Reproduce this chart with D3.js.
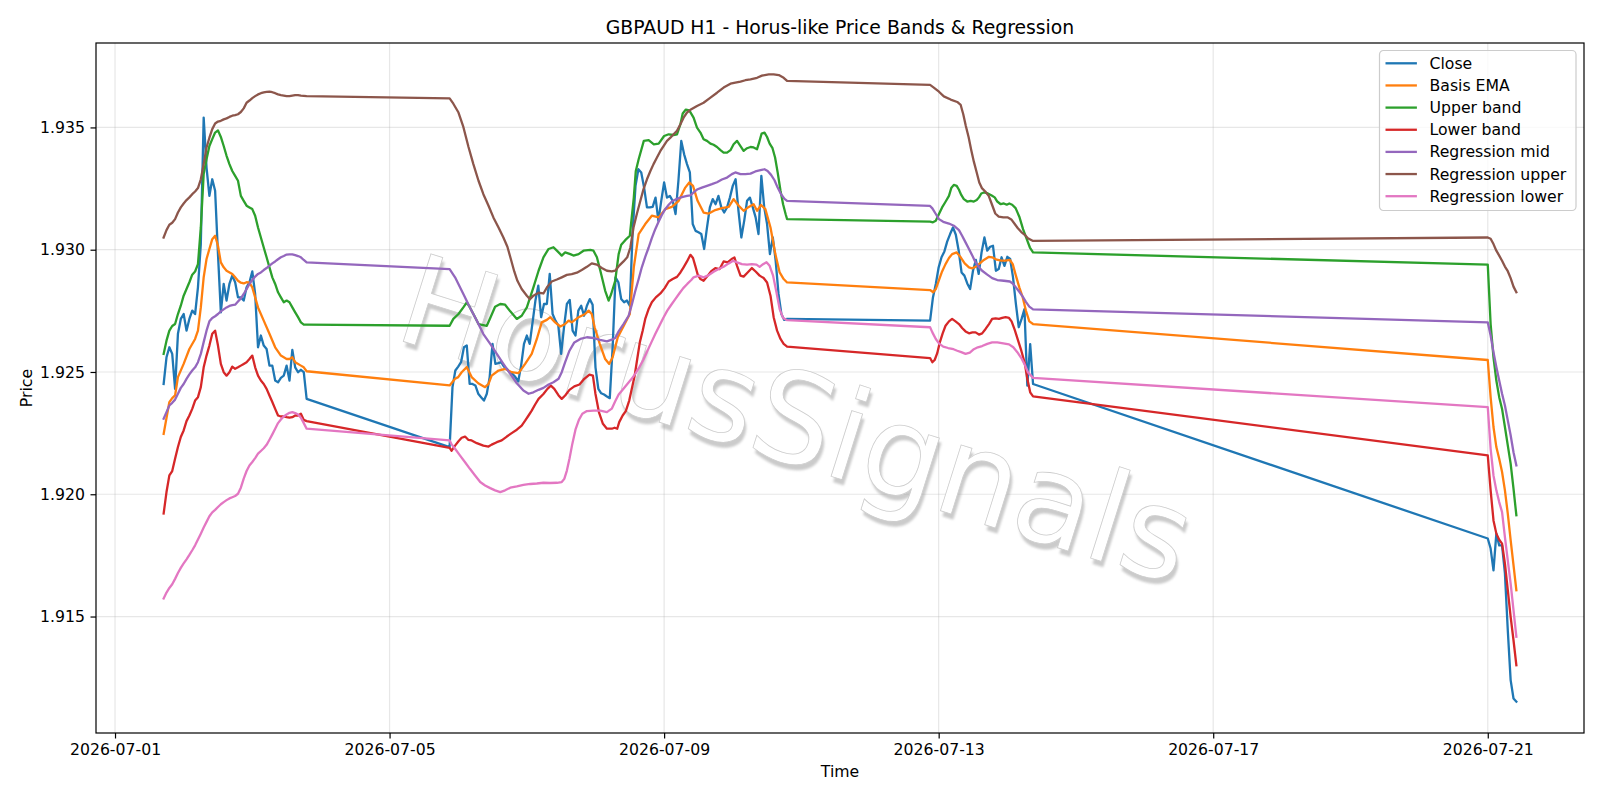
<!DOCTYPE html>
<html>
<head>
<meta charset="utf-8">
<title>GBPAUD H1 - Horus-like Price Bands & Regression</title>
<script src="https://cdn.jsdelivr.net/npm/d3@7/dist/d3.min.js"></script>
<style>
  body { margin: 0; background: #fff; }
  svg { font-family: 'DejaVu Sans', sans-serif; }
</style>
</head>
<body>
<div id="chart"></div>
<script>
// all times are hours since 2026-07-01 00:00 UTC (H1 bars)
const closeSegments = [
  { start: 17, values: [
    1.92451, 1.92560, 1.92601, 1.92574, 1.92431, 1.92656, 1.92717, 1.92737, 1.92669, 1.92717,
    1.92751, 1.92737, 1.92846, 1.93023, 1.93540, 1.93336, 1.93220, 1.93288, 1.93241, 1.92982,
    1.92744, 1.92860, 1.92792, 1.92860, 1.92894, 1.92867, 1.92805, 1.92805, 1.92792, 1.92846,
    1.92867, 1.92911, 1.92819, 1.92601, 1.92649, 1.92608, 1.92594, 1.92526, 1.92526, 1.92465,
    1.92458, 1.92476, 1.92485, 1.92526, 1.92465, 1.92590, 1.92519, 1.92499, 1.92509, 1.92499,
    1.92390] },
  { start: 117, values: [
    1.92193, 1.92438, 1.92506, 1.92522, 1.92540, 1.92601, 1.92608, 1.92451, 1.92451, 1.92445,
    1.92411, 1.92397, 1.92383, 1.92411, 1.92479, 1.92615, 1.92533, 1.92536, 1.92540, 1.92522,
    1.92513, 1.92499, 1.92492, 1.92479, 1.92462, 1.92526, 1.92615, 1.92649, 1.92615, 1.92703,
    1.92792, 1.92853, 1.92724, 1.92778, 1.92778, 1.92901, 1.92737, 1.92710, 1.92690, 1.92574,
    1.92683, 1.92778, 1.92795, 1.92669, 1.92649, 1.92751, 1.92771, 1.92730, 1.92771, 1.92798,
    1.92775, 1.92519, 1.92431, 1.92413, 1.92408, 1.92400, 1.92393, 1.92601, 1.92887, 1.92867,
    1.92798, 1.92785, 1.92792, 1.92771, 1.93077, 1.93261, 1.93329, 1.93316, 1.93254, 1.93173,
    1.93173, 1.93175, 1.93213, 1.93118, 1.93200, 1.93275, 1.93213, 1.93220, 1.93200, 1.93146,
    1.93282, 1.93445, 1.93390, 1.93350, 1.93316, 1.93105, 1.93077, 1.93071, 1.93064, 1.93003,
    1.93091, 1.93173, 1.93207, 1.93186, 1.93220, 1.93173, 1.93152, 1.93173, 1.93213, 1.93261,
    1.93288, 1.93159, 1.93050, 1.93118, 1.93200, 1.93213, 1.93173, 1.93132, 1.93064, 1.93302,
    1.93173, 1.93105, 1.92982, 1.93050, 1.92955, 1.92819, 1.92737, 1.92713, 1.92717] },
  { start: 285, values: [
    1.92710, 1.92805, 1.92860, 1.92928, 1.92969, 1.92993, 1.93034, 1.93064, 1.93091, 1.93061,
    1.92996, 1.92907, 1.92894, 1.92862, 1.92839, 1.92914, 1.92958, 1.92901, 1.92989, 1.93050,
    1.92996, 1.93012, 1.93016, 1.92914, 1.92921, 1.92969, 1.92934, 1.92971, 1.92962, 1.92887,
    1.92778, 1.92683, 1.92717, 1.92757, 1.92444, 1.92614, 1.92451] },
  { start: 480, values: [
    1.91819, 1.91778, 1.91689, 1.91839, 1.91791, 1.91791, 1.91676, 1.91444, 1.91240, 1.91165,
    1.91152] }
];

// [hour, price] vertices of the smoother series
const basisEma = [
  [17, 1.92247], [19, 1.92377], [20, 1.92393], [21, 1.92404], [22, 1.92479], [24, 1.92533],
  [26, 1.92594], [28, 1.92635], [29, 1.92669], [30, 1.92764], [31, 1.92887], [32, 1.92962],
  [33, 1.93003], [34, 1.93043], [35, 1.93057], [36, 1.93016], [37, 1.92948], [38, 1.92928],
  [39, 1.92914], [41, 1.92901], [42, 1.92887], [43, 1.92873], [44, 1.92865], [45, 1.92862],
  [46, 1.92867], [47, 1.92865], [48, 1.92846], [49, 1.92805], [50, 1.92764], [52, 1.92710],
  [54, 1.92656], [56, 1.92601], [58, 1.92567], [60, 1.92553], [61, 1.92553], [62, 1.92560],
  [63, 1.92540], [65, 1.92526], [66, 1.92519], [67, 1.92503],
  [117, 1.92445], [118.9, 1.92472], [120, 1.92479], [121.2, 1.92499], [123, 1.92520], [124.7, 1.92479],
  [127, 1.92454], [129.4, 1.92438], [130.6, 1.92451], [131.7, 1.92485], [134.1, 1.92506], [136.4, 1.92513],
  [138.7, 1.92499], [141.1, 1.92495], [143.4, 1.92533], [145.7, 1.92574], [147.5, 1.92635], [149.2, 1.92703],
  [151, 1.92713], [152.2, 1.92724], [153.9, 1.92703], [155.7, 1.92686], [157.4, 1.92696], [158.6, 1.92710],
  [159.7, 1.92703], [162.1, 1.92724], [164.4, 1.92737], [165.6, 1.92751], [166.7, 1.92737], [167.7, 1.92683],
  [169.5, 1.92615], [171.4, 1.92553], [172.8, 1.92533], [174, 1.92560], [175.8, 1.92642], [177.9, 1.92689],
  [180, 1.92737], [181.4, 1.92928], [183.1, 1.93064], [185.4, 1.93105], [187.7, 1.93139], [190.1, 1.93132],
  [192.4, 1.93166], [194.7, 1.93175], [197.1, 1.93200], [199.4, 1.93254], [200.8, 1.93275], [202.1, 1.93261],
  [203.7, 1.93200], [205.8, 1.93152], [207.6, 1.93148], [209.9, 1.93162], [212.2, 1.93170], [214.6, 1.93175],
  [216.3, 1.93207], [218.1, 1.93180], [219.8, 1.93159], [221.6, 1.93175], [223.3, 1.93186], [224.5, 1.93159],
  [225.9, 1.93183], [227.4, 1.93166], [229.2, 1.93091], [230.9, 1.92982], [232.4, 1.92907], [233.8, 1.92880],
  [235, 1.92866],
  [285, 1.92835], [286.1, 1.92826], [287, 1.92839], [288.1, 1.92876], [289.2, 1.92911], [290.4, 1.92941],
  [291.6, 1.92966], [292.7, 1.92982], [294.3, 1.92989], [295.7, 1.92969], [297.1, 1.92944], [298.6, 1.92928],
  [299.7, 1.92924], [300.9, 1.92930], [302.4, 1.92944], [303.8, 1.92958], [305.6, 1.92971], [306.7, 1.92969],
  [308.3, 1.92959], [309.9, 1.92955], [311.4, 1.92955], [312.9, 1.92958], [313.9, 1.92941], [315, 1.92894],
  [316.2, 1.92846], [317.4, 1.92805], [318.5, 1.92751], [319.7, 1.92707], [321, 1.92696],
  [480, 1.92549], [481, 1.92397], [482, 1.92275], [483, 1.92193], [484, 1.92145], [485, 1.92091],
  [486, 1.92016], [487, 1.91921], [488, 1.91812], [489, 1.91710], [490, 1.91608]
];

const upperBand = [
  [17, 1.92574], [18, 1.92628], [19, 1.92669], [20, 1.92688], [21, 1.92696], [22, 1.92737],
  [23, 1.92771], [24, 1.92812], [25, 1.92839], [26, 1.92867], [27, 1.92898], [28, 1.92911],
  [29, 1.92941], [30, 1.93091], [31, 1.93309], [32, 1.93370], [33, 1.93424], [34, 1.93452],
  [35, 1.93479], [36, 1.93488], [37, 1.93461], [38, 1.93424], [39, 1.93384], [40, 1.93350],
  [41, 1.93322], [42, 1.93302], [43, 1.93282], [44, 1.93220], [45, 1.93200], [46, 1.93180],
  [47, 1.93173], [48, 1.93166], [49, 1.93139], [50, 1.93091], [51, 1.93050], [52, 1.93009],
  [53, 1.92969], [54, 1.92928], [55, 1.92887], [56, 1.92860], [57, 1.92826], [58, 1.92805],
  [59, 1.92785], [60, 1.92792], [61, 1.92785], [62, 1.92764], [63, 1.92744], [64, 1.92724],
  [65, 1.92703], [66, 1.92694], [67, 1.92694],
  [117, 1.92689], [118.3, 1.92717], [120.1, 1.92737], [121.8, 1.92764], [123, 1.92785], [124.1, 1.92764],
  [125.3, 1.92737], [127.1, 1.92696], [130, 1.92689], [131.2, 1.92721], [132.9, 1.92767], [134.7, 1.92778],
  [136.4, 1.92775], [138.2, 1.92748], [140.5, 1.92717], [142.2, 1.92730], [144, 1.92764], [146.3, 1.92846],
  [148.1, 1.92914], [149.8, 1.92969], [151.6, 1.93003], [153.3, 1.93010], [154.5, 1.92996], [156.2, 1.92976],
  [157.4, 1.92989], [159.2, 1.92982], [160.3, 1.92976], [162.1, 1.92982], [163.8, 1.92996], [166.2, 1.92999],
  [167.3, 1.92996], [168.5, 1.92969], [169.7, 1.92914], [171.4, 1.92832], [172.6, 1.92792], [173.5, 1.92819],
  [174.9, 1.92873], [176.1, 1.92982], [177, 1.93020], [178.4, 1.93039], [180, 1.93057], [181.4, 1.93213],
  [182.1, 1.93322], [183.1, 1.93370], [184.9, 1.93445], [186.6, 1.93448], [188.4, 1.93431], [190.1, 1.93434],
  [192, 1.93465], [193.6, 1.93472], [195.3, 1.93469], [196.5, 1.93472], [197.7, 1.93513], [198.5, 1.93557],
  [199.6, 1.93573], [200.8, 1.93570], [202.3, 1.93540], [203.5, 1.93499], [204.7, 1.93479], [205.8, 1.93452],
  [207, 1.93445], [208.2, 1.93434], [209.3, 1.93429], [210.5, 1.93420], [211.7, 1.93407], [212.8, 1.93397],
  [214, 1.93397], [215.2, 1.93407], [216.3, 1.93431], [217.5, 1.93445], [218.7, 1.93424], [219.8, 1.93404],
  [221, 1.93415], [222.2, 1.93420], [223.3, 1.93418], [224.5, 1.93411], [225.2, 1.93438], [226.1, 1.93475],
  [227.1, 1.93479], [228, 1.93461], [228.9, 1.93434], [229.9, 1.93415], [230.8, 1.93377], [231.7, 1.93316],
  [232.7, 1.93241], [233.6, 1.93186], [234.5, 1.93145], [235, 1.93125],
  [285, 1.93115], [286, 1.93112], [287, 1.93118], [288.1, 1.93146], [289.2, 1.93173], [290.4, 1.93196],
  [291.6, 1.93220], [292.4, 1.93252], [293.3, 1.93265], [294.3, 1.93261], [295.1, 1.93245], [295.9, 1.93224],
  [296.8, 1.93207], [298, 1.93197], [299.2, 1.93200], [300.3, 1.93197], [301.3, 1.93203], [302.1, 1.93214],
  [302.9, 1.93230], [303.8, 1.93234], [305.2, 1.93230], [306.4, 1.93223], [307.6, 1.93214], [308.5, 1.93197],
  [309.7, 1.93186], [310.8, 1.93189], [311.8, 1.93184], [312.7, 1.93189], [313.7, 1.93184], [314.9, 1.93170],
  [316.2, 1.93135], [317.5, 1.93084], [318.8, 1.93043], [319.9, 1.93009], [321, 1.92989],
  [480, 1.92939], [481, 1.92696], [482, 1.92560], [483, 1.92465], [484, 1.92397], [485, 1.92349],
  [486, 1.92275], [487, 1.92200], [488, 1.92125], [489, 1.92023], [490, 1.91914]
];

const lowerBand = [
  [17, 1.91921], [18, 1.92009], [19, 1.92077], [20, 1.92095], [21, 1.92145], [22, 1.92193],
  [23, 1.92234], [24, 1.92261], [25, 1.92299], [26, 1.92322], [27, 1.92349], [28, 1.92383],
  [29, 1.92397], [30, 1.92438], [31, 1.92519], [32, 1.92567], [33, 1.92608], [34, 1.92656],
  [35, 1.92669], [36, 1.92608], [37, 1.92533], [38, 1.92499], [39, 1.92485], [40, 1.92499],
  [41, 1.92522], [42, 1.92513], [43, 1.92519], [44, 1.92526], [45, 1.92533], [46, 1.92540],
  [47, 1.92553], [48, 1.92567], [49, 1.92519], [50, 1.92485], [51, 1.92465], [52, 1.92451],
  [53, 1.92431], [54, 1.92404], [55, 1.92377], [56, 1.92349], [57, 1.92322], [58, 1.92318],
  [59, 1.92318], [60, 1.92315], [61, 1.92313], [62, 1.92315], [63, 1.92322], [64, 1.92322],
  [65, 1.92329], [66, 1.92304], [67, 1.92299],
  [117, 1.92190], [117.7, 1.92178], [118.9, 1.92199], [120.1, 1.92217], [121.2, 1.92231], [122.4, 1.92236],
  [123.6, 1.92222], [124.7, 1.92220], [126.5, 1.92209], [128.8, 1.92199], [130.6, 1.92195], [131.7, 1.92203],
  [133.5, 1.92213], [135.2, 1.92220], [137, 1.92236], [138.7, 1.92250], [140.5, 1.92264], [142.2, 1.92281],
  [143.4, 1.92301], [144.6, 1.92322], [145.7, 1.92342], [146.9, 1.92367], [148.1, 1.92390], [149.8, 1.92410],
  [151.2, 1.92431], [152.4, 1.92444], [153.6, 1.92431], [155.1, 1.92404], [156.2, 1.92390], [157.4, 1.92404],
  [158.9, 1.92427], [160.6, 1.92441], [162.4, 1.92449], [164.1, 1.92472], [165.9, 1.92489], [167.1, 1.92485],
  [168, 1.92410], [169.2, 1.92336], [170.6, 1.92288], [172, 1.92268], [173.7, 1.92268], [174.7, 1.92272],
  [175.6, 1.92268], [176.3, 1.92295], [177.5, 1.92322], [178.6, 1.92340], [179.8, 1.92383], [180.7, 1.92431],
  [181.7, 1.92485], [182.6, 1.92553], [183.5, 1.92621], [184.5, 1.92669], [185.4, 1.92717], [186.6, 1.92758],
  [187.7, 1.92785], [189.1, 1.92805], [190.7, 1.92821], [192.2, 1.92843], [193.6, 1.92870], [195, 1.92880],
  [196.5, 1.92889], [197.7, 1.92907], [198.8, 1.92928], [200, 1.92952], [201.2, 1.92979], [202.1, 1.92966],
  [202.9, 1.92934], [203.7, 1.92900], [204.7, 1.92880], [205.8, 1.92873], [207, 1.92890], [208.4, 1.92911],
  [209.9, 1.92925], [211.4, 1.92921], [212.8, 1.92952], [214.2, 1.92948], [215.6, 1.92962], [216.6, 1.92968],
  [217.5, 1.92934], [218.7, 1.92894], [219.8, 1.92890], [221.2, 1.92907], [222.7, 1.92925], [224, 1.92911],
  [225.4, 1.92894], [226.8, 1.92884], [228, 1.92866], [229.2, 1.92812], [230.3, 1.92724], [231.5, 1.92669],
  [232.7, 1.92635], [233.8, 1.92615], [235, 1.92604],
  [285, 1.92557], [285.8, 1.92540], [286.6, 1.92549], [287.5, 1.92577], [288.4, 1.92621], [289.4, 1.92658],
  [290.4, 1.92689], [291.6, 1.92707], [292.7, 1.92717], [293.9, 1.92707], [295.1, 1.92696], [296.2, 1.92680],
  [297.4, 1.92666], [298.6, 1.92658], [299.8, 1.92662], [300.9, 1.92662], [302.1, 1.92653], [303.2, 1.92658],
  [304.4, 1.92676], [305.6, 1.92696], [306.7, 1.92717], [307.9, 1.92719], [309.1, 1.92717], [310.2, 1.92721],
  [311.4, 1.92724], [312.6, 1.92721], [313.5, 1.92707], [314.6, 1.92672], [315.7, 1.92631], [316.9, 1.92587],
  [318.1, 1.92536], [319, 1.92472], [320, 1.92417], [321, 1.92400],
  [480, 1.92159], [481, 1.92016], [482, 1.91893], [483, 1.91839], [484, 1.91814], [485, 1.91798],
  [486, 1.91716], [487, 1.91608], [488, 1.91499], [489, 1.91403], [490, 1.91301]
];

const regressionMid = [
  [17, 1.92309], [18, 1.92336], [19, 1.92363], [20, 1.92374], [21, 1.92387], [22, 1.92411],
  [23, 1.92435], [24, 1.92451], [25, 1.92472], [26, 1.92490], [27, 1.92506], [28, 1.92519],
  [29, 1.92540], [30, 1.92574], [31, 1.92622], [32, 1.92669], [33, 1.92707], [34, 1.92721],
  [35, 1.92728], [36, 1.92737], [37, 1.92748], [38, 1.92756], [39, 1.92764], [40, 1.92770],
  [41, 1.92773], [42, 1.92775], [43, 1.92788], [44, 1.92801], [45, 1.92819], [46, 1.92839],
  [47, 1.92860], [48, 1.92876], [49, 1.92890], [50, 1.92901], [51, 1.92907], [52, 1.92917],
  [53, 1.92925], [54, 1.92935], [55, 1.92944], [56, 1.92952], [57, 1.92961], [58, 1.92969],
  [59, 1.92974], [60, 1.92980], [61, 1.92981], [62, 1.92981], [63, 1.92978], [64, 1.92974],
  [65, 1.92969], [66, 1.92958], [67, 1.92948],
  [117, 1.92921], [118.9, 1.92887], [121.8, 1.92819], [124.1, 1.92764], [126.5, 1.92710], [128.8, 1.92655],
  [131.2, 1.92615], [133.5, 1.92574], [135.8, 1.92533], [138.2, 1.92492], [140.5, 1.92454], [142.8, 1.92424],
  [144.6, 1.92411], [146.3, 1.92417], [148.1, 1.92427], [149.8, 1.92435], [151.6, 1.92449], [153.3, 1.92458],
  [155.1, 1.92472], [156.2, 1.92499], [157.4, 1.92540], [158.9, 1.92587], [160.6, 1.92621], [162.7, 1.92635],
  [165, 1.92642], [167.3, 1.92639], [169.6, 1.92631], [172, 1.92625], [173.7, 1.92632], [174.9, 1.92639],
  [176.1, 1.92666], [177.8, 1.92696], [179.6, 1.92730], [180.7, 1.92775], [181.9, 1.92830], [183.1, 1.92880],
  [184.2, 1.92928], [185.4, 1.92971], [186.6, 1.93009], [187.7, 1.93047], [188.9, 1.93084], [190.1, 1.93115],
  [191.2, 1.93142], [192.4, 1.93166], [193.6, 1.93184], [194.7, 1.93197], [196.5, 1.93208], [198.2, 1.93215],
  [200, 1.93220], [201.2, 1.93222], [202.3, 1.93234], [203.5, 1.93246], [205.2, 1.93254], [207, 1.93261],
  [208.7, 1.93268], [210.5, 1.93276], [212.2, 1.93287], [214, 1.93295], [215.7, 1.93309], [216.9, 1.93316],
  [218.7, 1.93309], [220.4, 1.93309], [222.2, 1.93311], [223.9, 1.93320], [225.7, 1.93325], [227.1, 1.93329],
  [228.2, 1.93322], [229.4, 1.93306], [230.6, 1.93284], [231.7, 1.93254], [232.9, 1.93227], [234.1, 1.93208],
  [235, 1.93200],
  [285, 1.93179], [285.8, 1.93169], [287, 1.93146], [288.1, 1.93125], [289.6, 1.93114], [291.6, 1.93107],
  [293.3, 1.93098], [295.1, 1.93080], [296.2, 1.93057], [297.4, 1.93030], [298.6, 1.93003], [299.8, 1.92975],
  [300.9, 1.92948], [302.1, 1.92928], [303.2, 1.92914], [305, 1.92898], [306.7, 1.92884], [308.5, 1.92876],
  [310.8, 1.92873], [312.9, 1.92870], [313.9, 1.92862], [315, 1.92846], [316.2, 1.92828], [317.4, 1.92808],
  [318.5, 1.92787], [319.7, 1.92767], [321, 1.92756],
  [480, 1.92703], [481, 1.92649], [482, 1.92581], [483, 1.92520], [484, 1.92465], [485, 1.92411],
  [486, 1.92363], [487, 1.92302], [488, 1.92241], [489, 1.92172], [490, 1.92118]
];

const regressionUpper = [
  [17, 1.93050], [18, 1.93080], [19, 1.93102], [20, 1.93110], [21, 1.93125], [22, 1.93152],
  [23, 1.93173], [24, 1.93189], [25, 1.93203], [26, 1.93214], [27, 1.93227], [28, 1.93238],
  [29, 1.93252], [30, 1.93288], [31, 1.93350], [32, 1.93418], [33, 1.93458], [34, 1.93493],
  [35, 1.93516], [36, 1.93524], [37, 1.93527], [38, 1.93533], [39, 1.93537], [40, 1.93543],
  [41, 1.93548], [42, 1.93550], [43, 1.93554], [44, 1.93563], [45, 1.93578], [46, 1.93601],
  [47, 1.93610], [48, 1.93620], [49, 1.93628], [50, 1.93635], [51, 1.93640], [52, 1.93643],
  [53, 1.93645], [54, 1.93646], [55, 1.93644], [56, 1.93640], [57, 1.93635], [58, 1.93632],
  [59, 1.93630], [60, 1.93628], [61, 1.93628], [62, 1.93630], [63, 1.93632], [64, 1.93632],
  [65, 1.93630], [66, 1.93629], [67, 1.93628],
  [117, 1.93619], [118.3, 1.93597], [120.1, 1.93561], [121.8, 1.93502], [123.6, 1.93420], [125.3, 1.93350],
  [127.1, 1.93282], [128.8, 1.93227], [130.6, 1.93180], [132.3, 1.93132], [134.1, 1.93091], [135.8, 1.93050],
  [137.2, 1.93012], [138.4, 1.92962], [139.6, 1.92911], [140.7, 1.92873], [142.2, 1.92839], [144, 1.92812],
  [145.1, 1.92798], [146.3, 1.92812], [148.1, 1.92824], [149.8, 1.92821], [151.2, 1.92849], [152.7, 1.92870],
  [154.5, 1.92878], [156.2, 1.92887], [158, 1.92897], [159.7, 1.92900], [161.5, 1.92906], [163.2, 1.92917],
  [165, 1.92930], [166.7, 1.92944], [168.5, 1.92939], [170.2, 1.92925], [172, 1.92914], [173.7, 1.92911],
  [174.9, 1.92914], [176.3, 1.92935], [177.8, 1.92952], [179.1, 1.92969], [180.2, 1.93009], [181.3, 1.93091],
  [182.5, 1.93148], [183.7, 1.93200], [184.8, 1.93248], [186, 1.93288], [187.2, 1.93322], [188.3, 1.93350],
  [189.5, 1.93377], [190.7, 1.93404], [191.8, 1.93424], [193, 1.93445], [194.2, 1.93458], [195.3, 1.93472],
  [196.5, 1.93486], [197.7, 1.93513], [198.8, 1.93540], [200, 1.93561], [201.2, 1.93572], [203.5, 1.93588],
  [205.8, 1.93601], [208.2, 1.93622], [210.5, 1.93642], [212.8, 1.93663], [215.2, 1.93679], [216.9, 1.93683],
  [218.7, 1.93687], [220.4, 1.93693], [222.2, 1.93697], [224.5, 1.93703], [226.2, 1.93712], [228.6, 1.93717],
  [230.3, 1.93717], [232.1, 1.93714], [233.8, 1.93703], [235, 1.93690],
  [285, 1.93674], [286.3, 1.93663], [288.1, 1.93646], [289.8, 1.93627], [292.2, 1.93614], [294.5, 1.93604],
  [295.7, 1.93592], [296.6, 1.93554], [297.5, 1.93506], [298.5, 1.93459], [299.4, 1.93407], [300.3, 1.93360],
  [301.3, 1.93316], [302.2, 1.93275], [303.1, 1.93252], [304.3, 1.93238], [305.5, 1.93220], [306.6, 1.93186],
  [307.8, 1.93148], [309, 1.93135], [310.6, 1.93132], [312.2, 1.93132], [313.4, 1.93124], [314.6, 1.93105],
  [315.7, 1.93088], [316.9, 1.93072], [318.1, 1.93061], [319.2, 1.93047], [321, 1.93036],
  [480, 1.93050], [481, 1.93045], [482, 1.93023], [483, 1.92996], [484, 1.92976], [485, 1.92955],
  [486, 1.92931], [487, 1.92912], [488, 1.92884], [489, 1.92849], [490, 1.92826]
];

const regressionLower = [
  [17, 1.91574], [18, 1.91598], [19, 1.91617], [20, 1.91632], [21, 1.91654], [22, 1.91678],
  [23, 1.91699], [24, 1.91717], [25, 1.91734], [26, 1.91752], [27, 1.91771], [28, 1.91791],
  [29, 1.91815], [30, 1.91839], [31, 1.91864], [32, 1.91887], [33, 1.91910], [34, 1.91926],
  [35, 1.91936], [36, 1.91948], [37, 1.91959], [38, 1.91968], [39, 1.91976], [40, 1.91983],
  [41, 1.91988], [42, 1.91993], [43, 1.92002], [44, 1.92027], [45, 1.92064], [46, 1.92095],
  [47, 1.92118], [48, 1.92132], [49, 1.92148], [50, 1.92166], [51, 1.92177], [52, 1.92188],
  [53, 1.92202], [54, 1.92223], [55, 1.92245], [56, 1.92268], [57, 1.92291], [58, 1.92306],
  [59, 1.92318], [60, 1.92326], [61, 1.92333], [62, 1.92336], [63, 1.92332], [64, 1.92326],
  [65, 1.92313], [66, 1.92291], [67, 1.92268],
  [117, 1.92220], [117.7, 1.92204], [118.9, 1.92186], [120.6, 1.92159], [122.4, 1.92131], [124.1, 1.92104],
  [125.9, 1.92077], [127.7, 1.92050], [129.4, 1.92036], [131.2, 1.92025], [132.9, 1.92016], [134.7, 1.92009],
  [136.4, 1.92016], [138.2, 1.92027], [140.5, 1.92032], [142.8, 1.92038], [145.2, 1.92042], [147.5, 1.92044],
  [149.8, 1.92047], [152.1, 1.92046], [154.5, 1.92047], [156.2, 1.92050], [157.1, 1.92063], [158, 1.92097],
  [158.9, 1.92145], [159.9, 1.92206], [161, 1.92264], [162.2, 1.92304], [163.4, 1.92329], [165, 1.92340],
  [167.3, 1.92342], [169.7, 1.92342], [172, 1.92336], [173.7, 1.92350], [174.9, 1.92380], [176.1, 1.92408],
  [177.5, 1.92427], [179, 1.92449], [180.5, 1.92470], [181.9, 1.92492], [183.3, 1.92519], [184.7, 1.92549],
  [186.1, 1.92585], [187.5, 1.92620], [188.9, 1.92655], [190.3, 1.92688], [191.7, 1.92721], [193.1, 1.92751],
  [194.5, 1.92775], [195.9, 1.92798], [197.3, 1.92821], [198.7, 1.92843], [200.1, 1.92860], [201.5, 1.92876],
  [202.3, 1.92887], [204.1, 1.92894], [205.8, 1.92887], [207.6, 1.92896], [209.3, 1.92910], [211.1, 1.92921],
  [212.8, 1.92930], [214.6, 1.92944], [216.1, 1.92955], [217.5, 1.92948], [219.2, 1.92941], [221, 1.92939],
  [222.7, 1.92941], [224.3, 1.92939], [225.4, 1.92930], [226.6, 1.92941], [227.8, 1.92949], [228.9, 1.92934],
  [230.1, 1.92894], [231.3, 1.92825], [232.4, 1.92757], [233.6, 1.92721], [235, 1.92712],
  [285, 1.92683], [285.8, 1.92662], [287, 1.92635], [288.1, 1.92617], [289.6, 1.92604], [291.3, 1.92598],
  [293.2, 1.92593], [294.5, 1.92587], [295.9, 1.92581], [297.4, 1.92574], [298.9, 1.92579], [300.3, 1.92593],
  [301.7, 1.92601], [303.2, 1.92606], [305, 1.92615], [306.7, 1.92621], [308.5, 1.92621], [310.6, 1.92617],
  [312.6, 1.92613], [314.1, 1.92601], [315.5, 1.92581], [316.9, 1.92557], [318.1, 1.92530], [319.2, 1.92499],
  [321, 1.92476],
  [480, 1.92356], [481, 1.92186], [482, 1.92077], [483, 1.92016], [484, 1.91968], [485, 1.91927],
  [486, 1.91825], [487, 1.91730], [488, 1.91635], [489, 1.91526], [490, 1.91417]
];

const seriesLabels = ['Close', 'Basis EMA', 'Upper band', 'Lower band',
  'Regression mid', 'Regression upper', 'Regression lower'];
const xTickLabels = ['2026-07-01', '2026-07-05', '2026-07-09', '2026-07-13', '2026-07-17', '2026-07-21'];
const yTickValues = [1.915, 1.920, 1.925, 1.930, 1.935];

((global) => {
  const W = 1600;
  const H = 800;
  const plot = { left: 96, right: 1584, top: 43, bottom: 733 };
  const colors = ['#1f77b4', '#ff7f0e', '#2ca02c', '#d62728', '#9467bd', '#8c564b', '#e377c2'];
  const t0 = Date.UTC(2026, 6, 1);
  const hourToDate = h => new Date(t0 + h * 3600e3);

  const close = closeSegments.flatMap(s => s.values.map((v, i) => [s.start + i, v]));
  const series = [close, basisEma, upperBand, lowerBand, regressionMid, regressionUpper, regressionLower];

  // matplotlib-style 5% margins around the data
  const all = series.flat();
  const [h0, h1] = d3.extent(all, d => d[0]);
  const [v0, v1] = d3.extent(all, d => d[1]);
  const hp = (h1 - h0) * 0.05;
  const vp = (v1 - v0) * 0.05;

  const x = d3.scaleUtc()
    .domain([hourToDate(h0 - hp), hourToDate(h1 + hp)])
    .range([plot.left, plot.right]);
  const y = d3.scaleLinear()
    .domain([v0 - vp, v1 + vp])
    .range([plot.bottom, plot.top]);

  const svg = d3.select('#chart')
    .append('svg')
    .attr('width', W)
    .attr('height', H);

  svg.append('rect').attr('width', W).attr('height', H).attr('fill', '#fff');

  const defs = svg.append('defs');
  defs.append('clipPath')
    .attr('id', 'plot-clip')
    .append('rect')
    .attr('x', plot.left)
    .attr('y', plot.top)
    .attr('width', plot.right - plot.left)
    .attr('height', plot.bottom - plot.top);
  defs.append('filter')
    .attr('id', 'soft')
    .append('feGaussianBlur')
    .attr('stdDeviation', 1.2);

  const xTicks = xTickLabels.map(s => new Date(s + 'T00:00:00Z'));

  // grid
  const grid = svg.append('g').attr('stroke', '#b0b0b0').attr('stroke-opacity', 0.3).attr('stroke-width', 1.2);
  grid.selectAll('.gx')
    .data(xTicks)
    .enter()
    .append('line')
    .attr('x1', d => x(d)).attr('x2', d => x(d))
    .attr('y1', plot.top).attr('y2', plot.bottom);
  grid.selectAll('.gy')
    .data(yTickValues)
    .enter()
    .append('line')
    .attr('x1', plot.left).attr('x2', plot.right)
    .attr('y1', d => y(d)).attr('y2', d => y(d));

  // watermark
  const wm = svg.append('g')
    .attr('clip-path', 'url(#plot-clip)')
    .append('g')
    .attr('transform', 'translate(797,418) rotate(17.5)')
    .attr('font-size', 126)
    .attr('text-anchor', 'middle');
  wm.append('text')
    .attr('x', 3.5).attr('y', 4.5).attr('dy', '0.36em')
    .attr('fill', '#a0a0a0').attr('fill-opacity', 0.55)
    .attr('filter', 'url(#soft)')
    .text('HorusSignals');
  wm.append('text')
    .attr('dy', '0.36em')
    .attr('fill', '#ffffff')
    .attr('stroke', '#cdcdcd').attr('stroke-width', 0.8)
    .text('HorusSignals');

  // series
  const line = d3.line()
    .x(d => x(hourToDate(d[0])))
    .y(d => y(d[1]));

  svg.append('g')
    .attr('clip-path', 'url(#plot-clip)')
    .selectAll('path')
    .data(series)
    .enter()
    .append('path')
    .attr('d', line)
    .attr('fill', 'none')
    .attr('stroke', (d, i) => colors[i])
    .attr('stroke-width', 2.3)
    .attr('stroke-linejoin', 'round')
    .attr('stroke-linecap', 'square');

  // axes
  const xAxis = svg.append('g')
    .attr('transform', `translate(0,${plot.bottom})`)
    .call(d3.axisBottom(x).tickValues(xTicks).tickFormat(d3.utcFormat('%Y-%m-%d')).tickSize(5.5).tickPadding(5.5));
  const yAxis = svg.append('g')
    .attr('transform', `translate(${plot.left},0)`)
    .call(d3.axisLeft(y).tickValues(yTickValues).tickFormat(d3.format('.3f')).tickSize(5.5).tickPadding(5.5));
  [xAxis, yAxis].forEach((a) => {
    a.select('.domain').remove();
    a.attr('font-family', null).attr('font-size', 15.7);
    a.selectAll('line').attr('stroke', '#000').attr('stroke-width', 1.2);
    a.selectAll('text').attr('fill', '#000');
  });

  svg.append('rect')
    .attr('x', plot.left).attr('y', plot.top)
    .attr('width', plot.right - plot.left).attr('height', plot.bottom - plot.top)
    .attr('fill', 'none').attr('stroke', '#000').attr('stroke-width', 1.2);

  svg.append('text')
    .attr('x', (plot.left + plot.right) / 2).attr('y', 34)
    .attr('text-anchor', 'middle').attr('font-size', 18.8)
    .text('GBPAUD H1 - Horus-like Price Bands & Regression');
  svg.append('text')
    .attr('x', (plot.left + plot.right) / 2).attr('y', 777)
    .attr('text-anchor', 'middle').attr('font-size', 15.7)
    .text('Time');
  svg.append('text')
    .attr('transform', `translate(32,${(plot.top + plot.bottom) / 2}) rotate(-90)`)
    .attr('text-anchor', 'middle').attr('font-size', 15.7)
    .text('Price');

  // legend
  const legend = svg.append('g').attr('transform', 'translate(1379.5,50.5)');
  legend.append('rect')
    .attr('width', 196.5).attr('height', 160)
    .attr('rx', 4)
    .attr('fill', '#fff').attr('fill-opacity', 0.8)
    .attr('stroke', '#cccccc').attr('stroke-width', 1.2);
  const rows = legend.selectAll('.row')
    .data(seriesLabels)
    .enter()
    .append('g')
    .attr('transform', (d, i) => `translate(0,${12.8 + i * 22.15})`);
  rows.append('line')
    .attr('x1', 6).attr('x2', 37.4)
    .attr('stroke', (d, i) => colors[i]).attr('stroke-width', 2.3);
  rows.append('text')
    .attr('x', 50).attr('dy', '0.35em')
    .attr('font-size', 15.7)
    .text(d => d);

  global.chartSeries = series;
})(window);
</script>
</body>
</html>
